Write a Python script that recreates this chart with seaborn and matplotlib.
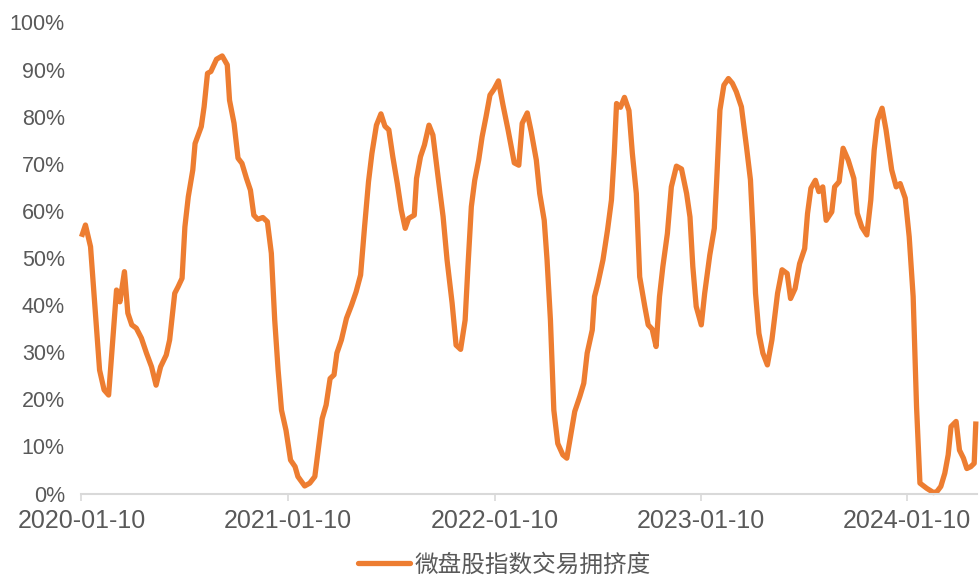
import numpy as np
import pandas as pd
import matplotlib
matplotlib.use("Agg")
import matplotlib.pyplot as plt
import matplotlib.dates as mdates
from matplotlib.ticker import PercentFormatter, MultipleLocator
from matplotlib.lines import Line2D
import seaborn as sns

# ---- data (days since 2020-01-10, crowding value in %) ----
start_date = "2020-01-10"
days = [0, 7, 16, 32, 40, 48, 62, 68, 76, 82, 89, 97, 106, 115, 124, 132, 140, 150, 156, 165,
        171, 178, 183, 189, 197, 201, 212, 217, 223, 229, 239, 249, 258, 262, 270, 277, 284, 292, 299, 305,
        312, 321, 329, 336, 342, 348, 354, 362, 370, 378, 383, 395, 404, 413, 419, 426, 433, 440, 447, 452,
        460, 469, 478, 486, 494, 501, 508, 514, 522, 530, 537, 544, 551, 559, 566, 573, 579, 589, 593, 600,
        607, 615, 622, 631, 640, 647, 656, 663, 671, 679, 684, 690, 696, 703, 709, 716, 723, 730, 738, 746,
        755, 766, 774, 780, 789, 796, 805, 811, 819, 824, 830, 836, 843, 852, 859, 866, 873, 882, 889, 895,
        904, 908, 914, 923, 931, 938, 943, 947, 954, 961, 969, 975, 982, 988, 997, 1003, 1010, 1017, 1023, 1029,
        1037, 1044, 1053, 1062, 1071, 1077, 1082, 1088, 1097, 1103, 1112, 1120, 1124, 1130, 1137, 1145, 1152, 1159, 1168, 1177,
        1184, 1189, 1193, 1199, 1206, 1214, 1222, 1232, 1240, 1249, 1255, 1263, 1271, 1280, 1285, 1291, 1299, 1305, 1312, 1318,
        1328, 1333, 1341, 1348, 1357, 1367, 1373, 1381, 1390, 1397, 1403, 1409, 1417, 1424, 1434, 1442, 1449, 1458, 1465, 1472,
        1478, 1484, 1496, 1508, 1514, 1521, 1528, 1534, 1539, 1548, 1554, 1561, 1567, 1574, 1580, 1583]
crowding = [54.5, 57.0, 52.4, 26.2, 22.0, 20.9, 43.2, 40.7, 47.1, 38.3, 35.8, 35.1, 33.0, 29.8, 26.9, 23.0, 26.9, 29.4, 32.6, 42.5,
            43.9, 45.7, 56.6, 63.0, 68.7, 74.3, 77.9, 82.1, 89.2, 89.6, 92.2, 92.9, 91.0, 83.5, 78.6, 71.2, 70.1, 66.9, 64.4, 59.1,
            58.2, 58.6, 57.7, 51.0, 36.8, 26.2, 17.7, 13.4, 7.1, 5.7, 3.6, 1.6, 2.2, 3.6, 9.2, 15.9, 18.8, 24.4, 25.2, 29.8,
            32.6, 37.2, 40.0, 42.8, 46.4, 56.6, 66.2, 72.2, 78.2, 80.6, 78.0, 77.2, 71.5, 65.8, 60.2, 56.3, 58.4, 59.1, 66.9, 71.5,
            74.0, 78.2, 76.1, 67.3, 58.8, 49.6, 40.4, 31.5, 30.6, 36.8, 48.2, 60.9, 66.5, 70.8, 75.7, 80.0, 84.6, 85.8, 87.6, 82.5,
            77.2, 70.2, 69.7, 78.6, 80.8, 76.8, 70.8, 63.7, 58.0, 49.6, 36.8, 17.7, 10.6, 8.2, 7.5, 12.4, 17.4, 20.6, 23.4, 29.8,
            34.7, 41.8, 44.6, 49.6, 55.9, 62.3, 72.2, 82.8, 82.0, 84.1, 81.3, 72.2, 63.7, 46.0, 39.7, 35.8, 34.9, 31.2, 41.8, 48.2,
            55.2, 65.1, 69.5, 68.9, 63.7, 58.7, 48.2, 39.7, 35.8, 42.5, 50.6, 56.3, 65.8, 81.4, 86.7, 88.1, 87.1, 85.3, 82.1, 73.6,
            66.6, 54.5, 42.5, 34.0, 29.8, 27.3, 32.6, 42.5, 47.5, 46.7, 41.4, 43.5, 48.8, 52.0, 59.4, 64.8, 66.5, 64.1, 65.1, 58.0,
            59.8, 65.1, 66.2, 73.3, 70.8, 66.9, 59.5, 56.6, 54.9, 62.3, 72.9, 79.3, 81.8, 77.2, 68.7, 65.1, 65.8, 62.7, 54.5, 41.8,
            18.4, 2.2, 1.1, 0.2, 0.4, 1.5, 4.3, 8.2, 14.2, 15.3, 9.2, 7.5, 5.3, 5.7, 6.4, 15.3]
tick_dates = ["2020-01-10", "2021-01-10", "2022-01-10", "2023-01-10", "2024-01-10"]
series_name = "微盘股指数交易拥挤度"

df = pd.DataFrame({
    "date": pd.Timestamp(start_date) + pd.to_timedelta(days, unit="D"),
    "value": crowding,
    "series": series_name,
})

sns.set_theme(style="white")
plt.rcParams["font.family"] = ["Liberation Sans", "Noto Sans CJK SC", "DejaVu Sans"]

orange = "#ED7D31"
gray_text = "#595959"
axis_gray = "#D9D9D9"
lw = 3.8

fig = plt.figure(figsize=(9.8, 5.83), dpi=100)
ax = fig.add_axes([81.5 / 980, 89.5 / 583, (977 - 81.5) / 980, 471 / 583])

sns.lineplot(data=df, x="date", y="value", hue="series", palette=[orange],
             linewidth=lw, ax=ax, legend=False)
for ln in ax.lines:
    ln.set_clip_on(False)
    ln.set_solid_joinstyle("round")
    ln.set_solid_capstyle("butt")

ax.set_ylim(0, 100)
ax.set_xlim(pd.Timestamp(start_date), pd.Timestamp(start_date) + pd.Timedelta(days=1585))
ax.yaxis.set_major_locator(MultipleLocator(10))
ax.yaxis.set_major_formatter(PercentFormatter(decimals=0))
ax.set_xticks(pd.to_datetime(tick_dates))
ax.xaxis.set_major_formatter(mdates.DateFormatter("%Y-%m-%d"))

ax.set_xlabel("")
ax.set_ylabel("")
for s in ["top", "right", "left"]:
    ax.spines[s].set_visible(False)
ax.spines["bottom"].set_color(axis_gray)
ax.spines["bottom"].set_linewidth(1.5)
ax.tick_params(axis="x", which="major", bottom=True, length=5, width=1.2, color=axis_gray,
               labelsize=18, labelcolor=gray_text, pad=6)
ax.tick_params(axis="y", which="major", left=False, labelsize=15.5, labelcolor=gray_text, pad=6)
ax.grid(False)

handle = Line2D([0], [0], color=orange, linewidth=lw)
fig.legend([handle], [series_name], loc="lower center", bbox_to_anchor=(0.515, -0.025),
           frameon=False, handlelength=2.2, handletextpad=0.2,
           labelcolor=gray_text, prop={"family": ["Noto Sans CJK SC", "DejaVu Sans"], "size": 17})

fig.savefig("out.png", dpi=100)
